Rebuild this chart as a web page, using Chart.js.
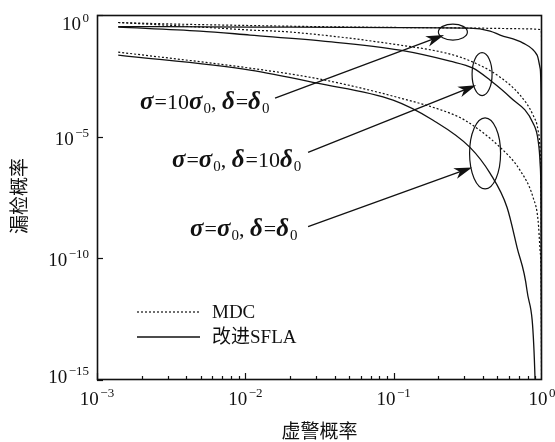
<!DOCTYPE html>
<html><head><meta charset="utf-8">
<script src="https://cdn.jsdelivr.net/npm/chart.js@4/dist/chart.umd.min.js"></script>
<style>html,body{margin:0;padding:0;background:#fff;}#wrap{width:555px;height:442px;}</style>
</head><body><div id="wrap"><canvas id="c" width="555" height="442"></canvas></div>
<script>
// ---- data ----
const xTickExps = [-3, -2, -1, 0];
const yTickExps = [0, -5, -10, -15];
const legendLabels = ['MDC', '改进SFLA'];
const xTitle = '虚警概率';
const yTitle = '漏检概率';

// σ = 10σ0, δ = δ0
const mdcSigma10X = [1.39e-3, 3.25e-3, 0.01076, 0.0508, 0.327, 0.831, 0.971, 0.99, 0.996, 0.9995];
const mdcSigma10Y = [0.491, 0.426, 0.369, 0.32, 0.291, 0.27, 0.253, 0.2, 1e-3, 1e-20];
const sflaSigma10X = [1.39e-3, 0.01076, 0.1104, 0.327, 0.447, 0.522, 0.746, 0.927, 0.971, 0.986, 0.9995];
const sflaSigma10Y = [0.336, 0.32, 0.305, 0.291, 0.219, 0.15, 0.0702, 0.0225, 6.55e-3, 3.2e-4, 1e-20];

// σ = σ0, δ = 10δ0
const mdcDelta10X = [1.39e-3, 4.95e-3, 0.01076, 0.02, 0.1104, 0.24, 0.343, 0.522, 0.712, 0.871, 0.941, 0.971, 0.986, 0.9995];
const mdcDelta10Y = [0.491, 0.32, 0.241, 0.2, 0.058, 0.0247, 0.01157, 2.79e-3, 5.06e-4, 7.6e-5, 1.83e-5, 2.74e-6, 2.4e-8, 1e-20];
const sflaDelta10X = [1.39e-3, 4.95e-3, 0.01076, 0.0334, 0.1104, 0.24, 0.343, 0.447, 0.61, 0.871, 0.941, 0.971, 0.986, 0.9995];
const sflaDelta10Y = [0.32, 0.219, 0.15, 0.0849, 0.0361, 0.0127, 6.55e-3, 2.1e-3, 4.18e-4, 3.55e-5, 7.08e-6, 7.98e-7, 9.2e-9, 1e-20];

// σ = σ0, δ = δ0
const mdcBaseX = [1.39e-3, 0.01076, 0.0319, 0.1054, 0.24, 0.303, 0.522, 0.712, 0.871, 0.941, 0.971, 0.986, 0.9995];
const mdcBaseY = [0.0299, 6.55e-3, 2.31e-3, 4.18e-4, 9.2e-5, 4.7e-5, 3.64e-6, 4.1e-7, 3.17e-8, 3.57e-9, 2.07e-10, 1.2e-11, 1e-20];
const sflaBaseX = [1.39e-3, 0.01076, 0.0304, 0.0991, 0.1844, 0.327, 0.447, 0.5815, 0.6794, 0.793, 0.898, 0.93];
const sflaBaseY = [0.0225, 5.42e-3, 1.58e-3, 3.15e-4, 4.72e-5, 3.64e-6, 3.09e-7, 1.23e-8, 2.76e-10, 4.66e-12, 1e-15, 1e-20];

// annotation anchors (data coordinates)
const ellipseCenters = [[0.2508, 0.1995], [0.3945, 3.71e-3], [0.4133, 2.06e-6]];
const ellipseRadii = [[14.5, 8], [10, 21.5], [15.5, 35.5]];
const arrowFrom = [[0.01586, 3.8e-4], [0.02648, 2.26e-6], [0.02648, 2.02e-9]];
const arrowTo = [[0.2187, 0.15], [0.3595, 1.3e-3], [0.3379, 5.46e-7]];
const labelAnchors = [[1.95e-3, 1.34e-4], [3.2e-3, 5.46e-7], [4.24e-3, 8.6e-10]];
const labelParts = [
  [['σ','g'],['=','n'],['10','n'],['σ','g'],['0','s'],[', ','n'],['δ','g'],['=','n'],['δ','g'],['0','s']],
  [['σ','g'],['=','n'],['σ','g'],['0','s'],[', ','n'],['δ','g'],['=','n'],['10','n'],['δ','g'],['0','s']],
  [['σ','g'],['=','n'],['σ','g'],['0','s'],[', ','n'],['δ','g'],['=','n'],['δ','g'],['0','s']]
];

const pts = (xs, ys) => xs.map((v, i) => ({x: v, y: ys[i]}));
const dotted = {borderColor: '#111', borderWidth: 1.2, borderDash: [2, 2]};
const solid = {borderColor: '#111', borderWidth: 1.3};

const datasets = [
  {label: 'mdcSigma10', data: pts(mdcSigma10X, mdcSigma10Y), ...dotted},
  {label: 'sflaSigma10', data: pts(sflaSigma10X, sflaSigma10Y), ...solid},
  {label: 'mdcDelta10', data: pts(mdcDelta10X, mdcDelta10Y), ...dotted},
  {label: 'sflaDelta10', data: pts(sflaDelta10X, sflaDelta10Y), ...solid},
  {label: 'mdcBase', data: pts(mdcBaseX, mdcBaseY), ...dotted},
  {label: 'sflaBase', data: pts(sflaBaseX, sflaBaseY), ...solid}
].map(d => Object.assign(d, {showLine: true, pointRadius: 0, fill: false, cubicInterpolationMode: 'monotone'}));

const SERIF = '"Liberation Serif", "DejaVu Serif", serif';
const CJK = '"Noto Sans CJK SC", sans-serif';

function drawPow(ctx, exp, x, baseline, align) {
  const base = '10';
  const e = exp < 0 ? '\u2212' + Math.abs(exp) : String(exp);
  ctx.font = '19px ' + SERIF;
  const wb = ctx.measureText(base).width;
  ctx.font = '13px ' + SERIF;
  const we = ctx.measureText(e).width;
  const gap = 1.5;
  const total = wb + gap + we;
  let x0 = align === 'right' ? x - total : x - total / 2;
  ctx.textAlign = 'left';
  ctx.textBaseline = 'alphabetic';
  ctx.font = '19px ' + SERIF;
  ctx.fillText(base, x0, baseline);
  ctx.font = '13px ' + SERIF;
  ctx.fillText(e, x0 + wb + gap, baseline - 8);
}

function drawLabel(ctx, parts, x, baseline) {
  let cx = x;
  ctx.textAlign = 'left';
  ctx.textBaseline = 'alphabetic';
  for (const [t, s] of parts) {
    let f, dy = 0;
    if (s === 'g') f = 'bold italic 25px ' + SERIF;
    else if (s === 's') { f = '15px ' + SERIF; dy = 4; }
    else f = '22px ' + SERIF;
    ctx.font = f;
    ctx.fillText(t, cx, baseline + dy);
    cx += ctx.measureText(t).width + (s === 'g' ? 1 : 0);
  }
}

function drawArrow(ctx, x1, y1, x2, y2) {
  const ang = Math.atan2(y2 - y1, x2 - x1);
  const L = 18, W = 5.5;
  ctx.beginPath();
  ctx.moveTo(x1, y1);
  ctx.lineTo(x2 - Math.cos(ang) * L * 0.7, y2 - Math.sin(ang) * L * 0.7);
  ctx.stroke();
  const bx = x2 - Math.cos(ang) * L, by = y2 - Math.sin(ang) * L;
  const nx = -Math.sin(ang), ny = Math.cos(ang);
  ctx.beginPath();
  ctx.moveTo(x2, y2);
  ctx.lineTo(bx + nx * W, by + ny * W);
  ctx.lineTo(x2 - Math.cos(ang) * L * 0.72, y2 - Math.sin(ang) * L * 0.72);
  ctx.lineTo(bx - nx * W, by - ny * W);
  ctx.closePath();
  ctx.fill();
}

const decor = {
  id: 'decor',
  afterDraw(chart) {
    const {ctx, chartArea: a, scales: {x, y}} = chart;
    ctx.save();
    ctx.strokeStyle = '#111';
    ctx.fillStyle = '#111';
    ctx.setLineDash([]);
    // frame
    ctx.lineWidth = 1.6;
    ctx.strokeRect(a.left + 0.5, a.top + 0.5, a.right - a.left - 1, a.bottom - a.top - 1);
    // x ticks
    ctx.lineWidth = 1.2;
    for (let d = xTickExps[0]; d < xTickExps[xTickExps.length - 1]; d++) {
      for (let m = 1; m <= 9; m++) {
        const px = Math.round(x.getPixelForValue(m * Math.pow(10, d))) + 0.5;
        const len = m === 1 ? 7 : 4;
        ctx.beginPath(); ctx.moveTo(px, a.bottom); ctx.lineTo(px, a.bottom - len); ctx.stroke();
      }
    }
    // y ticks
    for (const e of yTickExps) {
      const py = Math.round(y.getPixelForValue(Math.pow(10, e))) + 0.5;
      ctx.beginPath(); ctx.moveTo(a.left, py); ctx.lineTo(a.left + 6, py); ctx.stroke();
    }
    // tick labels
    ctx.fillStyle = '#111';
    for (const e of xTickExps) {
      drawPow(ctx, e, x.getPixelForValue(Math.pow(10, e)), a.bottom + 25, 'center');
    }
    for (const e of yTickExps) {
      const py = y.getPixelForValue(Math.pow(10, e));
      const bl = Math.min(Math.max(py + 8, a.top + 15), a.bottom + 3);
      drawPow(ctx, e, a.left - 8, bl, 'right');
    }
    // axis titles
    ctx.font = '19px ' + CJK;
    ctx.textAlign = 'center';
    ctx.textBaseline = 'middle';
    ctx.fillText(xTitle, (a.left + a.right) / 2, 431);
    ctx.save();
    ctx.translate(19, 196);
    ctx.rotate(-Math.PI / 2);
    ctx.fillText(yTitle, 0, 0);
    ctx.restore();
    // legend
    const lx0 = a.left + 40, lx1 = a.left + 103;
    const ly = [a.top + 297, a.top + 322];
    ctx.lineWidth = 1.2; ctx.setLineDash([2, 2]);
    ctx.beginPath(); ctx.moveTo(lx0, ly[0]); ctx.lineTo(lx1, ly[0]); ctx.stroke();
    ctx.setLineDash([]); ctx.lineWidth = 1.4;
    ctx.beginPath(); ctx.moveTo(lx0, ly[1]); ctx.lineTo(lx1, ly[1]); ctx.stroke();
    ctx.font = '19px ' + SERIF + ', ' + CJK;
    ctx.textAlign = 'left'; ctx.textBaseline = 'middle';
    ctx.fillText(legendLabels[0], a.left + 115, ly[0] + 1);
    ctx.fillText(legendLabels[1], a.left + 115, ly[1] + 1);
    // ellipses
    ctx.lineWidth = 1.2;
    ellipseCenters.forEach((c, i) => {
      const cx = x.getPixelForValue(c[0]), cy = y.getPixelForValue(c[1]);
      ctx.beginPath();
      ctx.ellipse(cx, cy, ellipseRadii[i][0], ellipseRadii[i][1], 0, 0, Math.PI * 2);
      ctx.stroke();
    });
    // arrows
    ctx.lineWidth = 1.3;
    arrowFrom.forEach((f, i) => {
      drawArrow(ctx, x.getPixelForValue(f[0]), y.getPixelForValue(f[1]),
        x.getPixelForValue(arrowTo[i][0]), y.getPixelForValue(arrowTo[i][1]));
    });
    // labels
    labelParts.forEach((p, i) => {
      drawLabel(ctx, p, x.getPixelForValue(labelAnchors[i][0]), y.getPixelForValue(labelAnchors[i][1]));
    });
    ctx.restore();
  }
};

new Chart(document.getElementById('c'), {
  type: 'scatter',
  data: {datasets},
  options: {
    responsive: false,
    devicePixelRatio: 1,
    animation: false,
    layout: {padding: {left: 97, right: 13, top: 15, bottom: 62}},
    plugins: {legend: {display: false}, tooltip: {enabled: false}},
    scales: {
      x: {type: 'logarithmic', min: 1e-3, max: 1, display: false},
      y: {type: 'logarithmic', min: 1e-15, max: 1, display: false}
    }
  },
  plugins: [decor]
});
</script>
</body></html>
